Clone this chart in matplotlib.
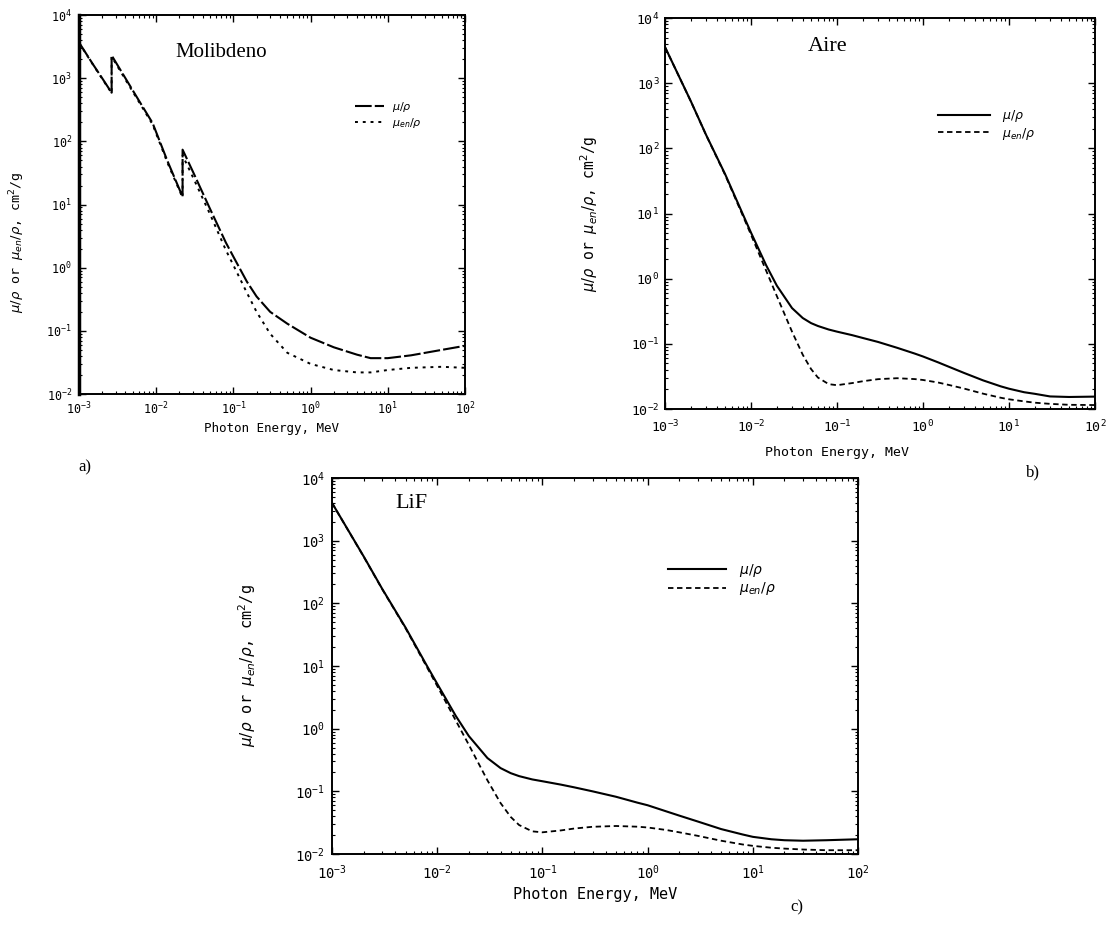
import matplotlib
matplotlib.use("Agg")
import matplotlib.pyplot as plt
from matplotlib.ticker import LogLocator, NullFormatter

# Coeficientes de atenuacion masica (mu/rho) y de absorcion de energia (mu_en/rho), cm2/g
# Molibdeno (bordes L y K repetidos para el salto)
e_mo = [1e-3, 1.5e-3, 2e-3, 2.65e-3, 2.65e-3, 4e-3, 6e-3, 9e-3, 0.014, 0.022, 0.022,
        0.03, 0.05, 0.08, 0.1, 0.15, 0.2, 0.3, 0.5, 1, 2, 4, 6, 10, 20, 50, 100]
mu_mo = [3700, 1700, 1000, 590, 2300, 1000, 440, 195, 49, 13.3, 74,
         33, 8.5, 2.5, 1.5, 0.6, 0.35, 0.2, 0.13, 0.078, 0.055, 0.042, 0.037, 0.037, 0.041, 0.05, 0.058]
muen_mo = [3650, 1680, 980, 580, 2200, 950, 420, 185, 46, 12.8, 60,
           27, 7.0, 1.9, 1.1, 0.4, 0.2, 0.09, 0.045, 0.03, 0.024, 0.022, 0.022, 0.024, 0.026, 0.027, 0.026]

# Aire
e_air = [1e-3, 2e-3, 3e-3, 5e-3, 8e-3, 0.01, 0.015, 0.02, 0.03, 0.04, 0.05, 0.06, 0.08,
         0.1, 0.15, 0.2, 0.3, 0.5, 0.8, 1, 1.5, 2, 3, 5, 8, 10, 15, 20, 30, 50, 100]
mu_air = [3600, 528, 162, 40.3, 9.9, 5.1, 1.61, 0.78, 0.354, 0.249, 0.208, 0.188, 0.166,
          0.154, 0.136, 0.123, 0.107, 0.087, 0.071, 0.064, 0.052, 0.0445, 0.0358, 0.0275, 0.0223,
          0.0205, 0.0181, 0.0171, 0.0156, 0.0153, 0.0155]
muen_air = [3590, 526, 161, 39.3, 9.4, 4.74, 1.33, 0.54, 0.154, 0.068, 0.041, 0.0304, 0.0241,
            0.0232, 0.025, 0.0267, 0.0287, 0.0297, 0.0288, 0.0279, 0.0255, 0.0234, 0.0206, 0.0172,
            0.0149, 0.0141, 0.0131, 0.0125, 0.012, 0.0116, 0.0115]

# LiF
e_lif = [1e-3, 2e-3, 3e-3, 5e-3, 8e-3, 0.01, 0.015, 0.02, 0.03, 0.04, 0.05, 0.06, 0.08,
         0.1, 0.15, 0.2, 0.3, 0.5, 0.8, 1, 1.5, 2, 3, 5, 8, 10, 15, 20, 30, 50, 100]
mu_lif = [4000, 560, 170, 41, 10, 5.2, 1.6, 0.76, 0.34, 0.235, 0.195, 0.175, 0.155,
          0.145, 0.128, 0.116, 0.1, 0.082, 0.066, 0.06, 0.048, 0.041, 0.033, 0.025, 0.0205,
          0.0188, 0.0172, 0.0166, 0.0163, 0.0166, 0.0172]
muen_lif = [3990, 555, 168, 40, 9.5, 4.8, 1.35, 0.55, 0.15, 0.065, 0.039, 0.029, 0.023,
            0.0222, 0.0238, 0.0255, 0.0272, 0.028, 0.0273, 0.0265, 0.0242, 0.0222, 0.0195, 0.0163,
            0.0142, 0.0135, 0.0126, 0.0122, 0.0118, 0.0115, 0.0115]

mono = "DejaVu Sans Mono"
serif = "Liberation Serif"
ylab = r"$\mu/\rho$ or $\mu_{en}/\rho$, cm$^2$/g"
xlab = "Photon Energy, MeV"

fig = plt.figure(figsize=(11.12, 9.30), dpi=100)


def setup(ax, tsize, xpad, ypad):
    ax.set_xscale("log")
    ax.set_yscale("log")
    ax.set_xlim(1e-3, 100)
    ax.set_ylim(1e-2, 1e4)
    ax.xaxis.set_major_locator(LogLocator(base=10, numticks=10))
    ax.yaxis.set_major_locator(LogLocator(base=10, numticks=10))
    ax.xaxis.set_minor_locator(LogLocator(base=10, subs=range(2, 10), numticks=20))
    ax.yaxis.set_minor_locator(LogLocator(base=10, subs=range(2, 10), numticks=20))
    ax.xaxis.set_minor_formatter(NullFormatter())
    ax.yaxis.set_minor_formatter(NullFormatter())
    ax.tick_params(which="both", direction="in", top=True, right=True, colors="black")
    ax.tick_params(which="major", length=5, width=1.0, labelsize=tsize)
    ax.tick_params(axis="x", which="major", pad=xpad)
    ax.tick_params(axis="y", which="major", pad=ypad)
    ax.tick_params(which="minor", length=2.5, width=0.8)
    for s in ax.spines.values():
        s.set_linewidth(1.4)
    for lab in ax.get_xticklabels() + ax.get_yticklabels():
        lab.set_family(mono)


# a) Molibdeno
ax1 = fig.add_axes([0.071, 0.5763, 0.3471, 0.4075])
setup(ax1, 8.5, 5, 5)
ax1.plot(e_mo, mu_mo, color="black", lw=1.5, ls=(0, (8, 1.5)), label=r"$\mu/\rho$")
ax1.plot(e_mo, muen_mo, color="black", lw=1.4, ls=(0, (1.5, 2.5)), label=r"$\mu_{en}/\rho$")
ax1.spines["left"].set_linewidth(2.5)
ax1.text(0.249, 0.90, "Molibdeno", transform=ax1.transAxes, family=serif,
         fontsize=15, va="center", ha="left")
ax1.legend(loc="upper left", bbox_to_anchor=(0.70, 0.79), frameon=False,
           fontsize=8, handlelength=2.6, handletextpad=0.8, labelspacing=0.15, borderpad=0)
ax1.set_xlabel(xlab, family=mono, fontsize=9, labelpad=3)
ax1.set_ylabel(ylab, family=mono, fontsize=9.5)
ax1.yaxis.set_label_coords(-0.135, 0.40)
fig.text(85 / 1112, 1 - 467 / 930, "a)", family=serif, fontsize=12, ha="center", va="center")

# b) Aire
ax2 = fig.add_axes([0.598, 0.5602, 0.3867, 0.4204])
setup(ax2, 9.5, 7, 4)
ax2.plot(e_air, mu_air, color="black", lw=1.5, label=r"$\mu/\rho$")
ax2.plot(e_air, muen_air, color="black", lw=1.3, ls=(0, (3, 2)), label=r"$\mu_{en}/\rho$")
ax2.text(0.333, 0.928, "Aire", transform=ax2.transAxes, family=serif,
         fontsize=16, va="center", ha="left")
ax2.legend(loc="upper left", bbox_to_anchor=(0.62, 0.785), frameon=False,
           fontsize=9, handlelength=4.2, handletextpad=0.9, labelspacing=0.1, borderpad=0)
ax2.set_xlabel(xlab, family=mono, fontsize=9.5, labelpad=3)
ax2.xaxis.set_label_coords(0.40, -0.095)
ax2.set_ylabel(ylab, family=mono, fontsize=10.5)
ax2.yaxis.set_label_coords(-0.15, 0.5)
fig.text(1033 / 1112, 1 - 472 / 930, "b)", family=serif, fontsize=12, ha="center", va="center")

# c) LiF
ax3 = fig.add_axes([0.2986, 0.0817, 0.473, 0.4043])
setup(ax3, 10, 7, 5)
ax3.plot(e_lif, mu_lif, color="black", lw=1.5, label=r"$\mu/\rho$")
ax3.plot(e_lif, muen_lif, color="black", lw=1.3, ls=(0, (3, 2)), label=r"$\mu_{en}/\rho$")
ax3.text(0.12, 0.933, "LiF", transform=ax3.transAxes, family=serif,
         fontsize=16, va="center", ha="left")
ax3.legend(loc="upper left", bbox_to_anchor=(0.625, 0.795), frameon=False,
           fontsize=10, handlelength=4.2, handletextpad=0.9, labelspacing=0.1, borderpad=0)
ax3.set_xlabel(xlab, family=mono, fontsize=11, labelpad=3)
ax3.set_ylabel(ylab, family=mono, fontsize=11)
ax3.yaxis.set_label_coords(-0.14, 0.5)
fig.text(797 / 1112, 1 - 907 / 930, "c)", family=serif, fontsize=12, ha="center", va="center")

fig.savefig("out.png", dpi=100)
